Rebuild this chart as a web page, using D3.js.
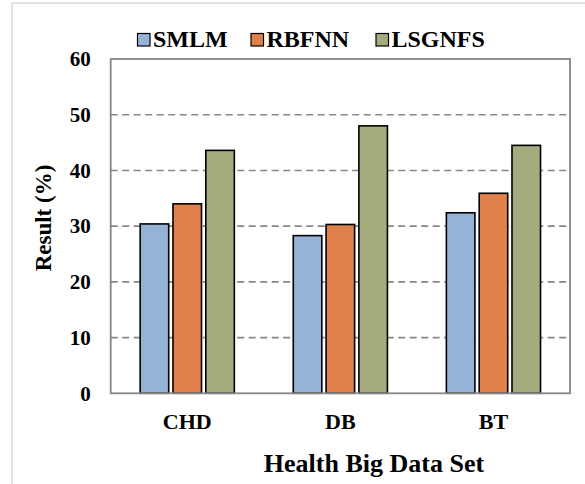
<!DOCTYPE html>
<html>
<head>
<meta charset="utf-8">
<script src="https://cdn.jsdelivr.net/npm/d3@7"></script>
<style>
  html, body { margin: 0; padding: 0; background: #fff; }
  svg { display: block; font-family: "Liberation Serif", "Times New Roman", serif; font-weight: bold; }
</style>
</head>
<body>
<svg id="chart" width="585" height="484"></svg>
<script>
const categories = ["CHD", "DB", "BT"];
const seriesNames = ["SMLM", "RBFNN", "LSGNFS"];
const SMLM = [30.4, 28.3, 32.4];
const RBFNN = [34.0, 30.3, 35.9];
const LSGNFS = [43.6, 48.0, 44.5];
const yTicks = [0, 10, 20, 30, 40, 50, 60];
const colors = ["#95B3D7", "#E0804A", "#A6AB7E"];

const seriesValues = [SMLM, RBFNN, LSGNFS];

const svg = d3.select("#chart");
const pL = 110.7, pR = 570, pT = 59, pB = 393.3;

// outer frame
svg.append("rect").attr("x", 12).attr("y", 3).attr("width", 600).attr("height", 520)
  .attr("fill", "none").attr("stroke", "#d9d9d9").attr("stroke-width", 1.5);

const y = d3.scaleLinear().domain([0, 60]).range([pB, pT]);
const x0 = d3.scaleBand().domain(categories).range([pL, pR]).paddingInner(0.385).paddingOuter(0.1925);
const x1 = d3.scaleBand().domain(seriesNames).range([0, x0.bandwidth()]).paddingInner(0.13).paddingOuter(0);

// gridlines
svg.append("g").selectAll("line").data(yTicks.filter(t => t > 0 && t < 60)).join("line")
  .attr("x1", pL).attr("x2", pR)
  .attr("y1", d => y(d)).attr("y2", d => y(d))
  .attr("stroke", "#888").attr("stroke-width", 1.6).attr("stroke-dasharray", "7,4.5");

// bars
const groups = svg.append("g").selectAll("g").data(categories).join("g")
  .attr("transform", d => `translate(${x0(d)},0)`);
groups.selectAll("rect").data((c, ci) => seriesNames.map((s, si) => ({s, si, v: seriesValues[si][ci]}))).join("rect")
  .attr("x", d => x1(d.s)).attr("width", x1.bandwidth())
  .attr("y", d => y(d.v)).attr("height", d => y(0) - y(d.v))
  .attr("fill", d => colors[d.si]).attr("stroke", "#000").attr("stroke-width", 1.6);

// plot frame
svg.append("rect").attr("x", pL).attr("y", pT).attr("width", pR - pL).attr("height", pB - pT)
  .attr("fill", "none").attr("stroke", "#868686").attr("stroke-width", 1.8);

// y axis labels
const yAxis = d3.axisLeft(y).tickValues(yTicks).tickSize(0).tickPadding(20);
const yg = svg.append("g").attr("transform", `translate(${pL},0)`).call(yAxis);
yg.select(".domain").remove();
yg.selectAll("text").attr("font-size", 21).attr("font-family", "Liberation Serif").attr("font-weight", "bold").attr("fill", "#000");

// x axis labels
const xAxis = d3.axisBottom(x0).tickSize(0).tickPadding(20);
const xg = svg.append("g").attr("transform", `translate(0,${pB})`).call(xAxis);
xg.select(".domain").remove();
xg.selectAll("text").attr("font-size", 22).attr("font-family", "Liberation Serif").attr("font-weight", "bold").attr("fill", "#000");

// axis titles
svg.append("text").attr("x", 374).attr("y", 472).attr("text-anchor", "middle")
  .attr("font-size", 26).text("Health Big Data Set");
svg.append("text").attr("transform", "translate(51,218) rotate(-90)").attr("text-anchor", "middle")
  .attr("font-size", 23).text("Result (%)");

// legend
const legendX = [137.5, 251, 376];
const lg = svg.append("g").selectAll("g").data(seriesNames).join("g")
  .attr("transform", (d, i) => `translate(${legendX[i]},0)`);
lg.append("rect").attr("x", 0).attr("y", 33.5).attr("width", 12.5).attr("height", 12.5)
  .attr("fill", (d, i) => colors[i]).attr("stroke", "#000").attr("stroke-width", 1.2);
lg.append("text").attr("x", 15.5).attr("y", 46.5).attr("font-size", 24).text(d => d);
</script>
</body>
</html>
